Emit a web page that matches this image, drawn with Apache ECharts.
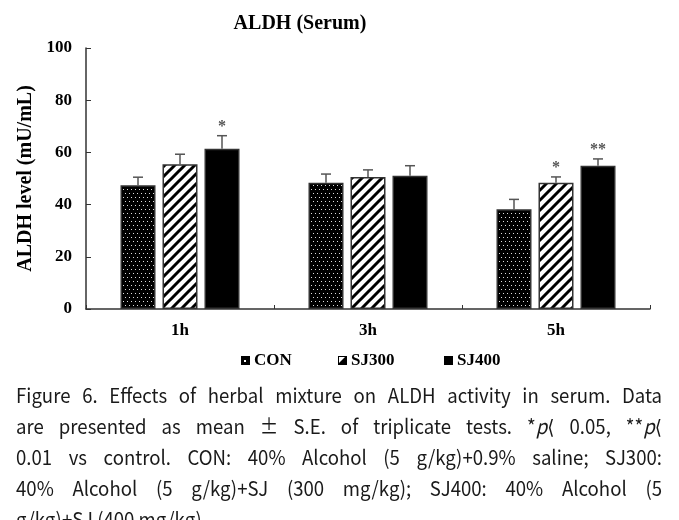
<!DOCTYPE html>
<html>
<head>
<meta charset="utf-8">
<script src="https://cdn.jsdelivr.net/npm/echarts@6/dist/echarts.min.js"></script>
<style>
  html, body { margin: 0; padding: 0; background: #fff; }
  #chart { width: 679px; height: 520px; }
</style>
</head>
<body>
<div id="chart"></div>
<script>
// data
var categories = ['1h', '3h', '5h'];
var groupNames = ['CON', 'SJ300', 'SJ400'];
var conMean = [47.4, 48.4, 38.2];
var conErr = [3.1, 3.3, 3.8];
var sj300Mean = [55.5, 50.6, 48.4];
var sj300Err = [3.8, 2.7, 2.2];
var sj400Mean = [61.4, 51.1, 54.9];
var sj400Err = [5.0, 3.8, 2.6];
var conMarks = ['', '', ''];
var sj300Marks = ['', '', '*'];
var sj400Marks = ['*', '', '**'];
var yMin = 0, yMax = 100, yStep = 20;

var captionLines = [
  'Figure 6. Effects of herbal mixture on ALDH activity in serum. Data',
  'are presented as mean ± S.E. of triplicate tests. *p⟨ 0.05, **p⟨',
  '0.01 vs control. CON: 40% Alcohol (5 g/kg)+0.9% saline; SJ300:',
  '40% Alcohol (5 g/kg)+SJ (300 mg/kg); SJ400: 40% Alcohol (5',
  'g/kg)+SJ (400 mg/kg).'
];

var serif = 'Liberation Serif';
var capFont = '"Noto Sans CJK KR", "DejaVu Sans"';
var capSize = 20, capScale = 0.93;
var barW = 35, barStep = 42;

// fill patterns
function dotPattern() {
  var c = document.createElement('canvas');
  c.width = 4; c.height = 8;
  var g = c.getContext('2d');
  g.fillStyle = '#000'; g.fillRect(0, 0, 4, 8);
  g.fillStyle = '#ddd';
  g.fillRect(1, 1, 1, 1);
  g.fillRect(3, 5, 1, 1);
  return c;
}
function stripePattern() {
  var s = 10;
  var c = document.createElement('canvas');
  c.width = s; c.height = s;
  var g = c.getContext('2d');
  g.fillStyle = '#fff'; g.fillRect(0, 0, s, s);
  g.strokeStyle = '#000'; g.lineWidth = 3;
  g.beginPath();
  g.moveTo(-1, s + 1); g.lineTo(s + 1, -1);
  g.moveTo(-2, 2); g.lineTo(2, -2);
  g.moveTo(s - 2, s + 2); g.lineTo(s + 2, s - 2);
  g.stroke();
  return c;
}
function icon(kind) {
  var c = document.createElement('canvas');
  c.width = 9; c.height = 9;
  var g = c.getContext('2d');
  g.fillStyle = '#000'; g.fillRect(0, 0, 9, 9);
  if (kind === 0) {
    g.fillStyle = '#fff'; g.fillRect(3, 4, 2, 2);
  } else if (kind === 1) {
    g.fillStyle = '#fff';
    g.beginPath(); g.moveTo(1, 1); g.lineTo(7, 1); g.lineTo(1, 7); g.closePath(); g.fill();
  }
  return 'image://' + c.toDataURL();
}

var fills = [
  { image: dotPattern(), repeat: 'repeat' },
  { image: stripePattern(), repeat: 'repeat' },
  '#000'
];
var means = [conMean, sj300Mean, sj400Mean];
var errs = [conErr, sj300Err, sj400Err];
var marks = [conMarks, sj300Marks, sj400Marks];
var legendLeft = [241, 338, 444];

var series = [];
groupNames.forEach(function (name, k) {
  series.push({
    name: name,
    type: 'bar',
    data: means[k],
    barWidth: barW,
    barGap: '20%',
    itemStyle: { color: fills[k], borderColor: '#333', borderWidth: 1.5 },
    emphasis: { disabled: true }
  });
});
groupNames.forEach(function (name, k) {
  series.push({
    type: 'custom',
    data: categories.map(function (c, i) { return [i, means[k][i], errs[k][i]]; }),
    encode: { x: 0, y: 1 },
    z: 5,
    silent: true,
    renderItem: function (params, api) {
      var i = api.value(0), m = api.value(1), e = api.value(2);
      var base = api.coord([i, m]);
      var top = api.coord([i, m + e]);
      var x = base[0] + (k - 1) * barStep;
      var kids = [
        { type: 'line', shape: { x1: x, y1: base[1], x2: x, y2: top[1] },
          style: { stroke: '#555', lineWidth: 1.5 } },
        { type: 'line', shape: { x1: x - 5, y1: top[1], x2: x + 5, y2: top[1] },
          style: { stroke: '#555', lineWidth: 1.5 } }
      ];
      var mk = marks[k][params.dataIndex];
      if (mk) {
        kids.push({ type: 'text', x: x, y: top[1] - 9,
          style: { text: mk, fontFamily: serif, fontSize: 16, fontWeight: 'bold',
            fill: '#555', align: 'center', verticalAlign: 'middle' } });
      }
      return { type: 'group', children: kids };
    }
  });
});

// justified caption
var measure = document.createElement('canvas').getContext('2d');
function wordWidth(w) {
  var m = w.match(/^(\*+)p(.*)$/);
  measure.font = capSize + 'px ' + capFont;
  if (m) {
    var a = measure.measureText(m[1]).width + measure.measureText(m[2]).width;
    measure.font = 'italic ' + capSize + 'px ' + capFont;
    return (a + measure.measureText('p').width) * capScale;
  }
  return measure.measureText(w).width * capScale;
}
var capLeft = 16, capRight = 662, capTop = 395, capLead = 31.2;
var graphics = [];
captionLines.forEach(function (line, li) {
  var words = line.split(' ');
  var widths = words.map(wordWidth);
  var total = widths.reduce(function (a, b) { return a + b; }, 0);
  measure.font = capSize + 'px ' + capFont;
  var gap = measure.measureText(' ').width * capScale;
  if (li < captionLines.length - 1) gap = (capRight - capLeft - total) / (words.length - 1);
  var x = capLeft;
  words.forEach(function (w, wi) {
    var m = w.match(/^(\*+)p(.*)$/);
    var st = { text: w, fontFamily: capFont, fontSize: capSize, fill: '#1a1a1a', verticalAlign: 'middle' };
    if (m) {
      st.text = m[1] + '{i|p}' + m[2];
      st.rich = { i: { fontFamily: capFont, fontSize: capSize, fontStyle: 'italic', fill: '#1a1a1a' } };
    }
    graphics.push({ type: 'text', x: x, y: capTop + li * capLead, scaleX: capScale, style: st, silent: true });
    x += widths[wi] + gap;
  });
});

var chart = echarts.init(document.getElementById('chart'));
chart.setOption({
  animation: false,
  backgroundColor: '#fff',
  title: {
    text: 'ALDH (Serum)',
    left: 295, top: 9, textAlign: 'center',
    textStyle: { fontFamily: serif, fontWeight: 'bold', fontSize: 20, color: '#000' }
  },
  legend: groupNames.map(function (n, k) {
    return {
      left: legendLeft[k], top: 352,
      itemWidth: 9, itemHeight: 9, padding: 0,
      selectedMode: false,
      textStyle: { fontFamily: serif, fontWeight: 'bold', fontSize: 17, color: '#000', padding: [0, 0, 0, -1] },
      data: [{ name: n, icon: icon(k) }]
    };
  }),
  grid: { left: 86, right: 29, top: 48, bottom: 211, outerBoundsMode: 'none' },
  xAxis: {
    type: 'category',
    data: categories,
    axisLine: { show: true, lineStyle: { color: '#333', width: 1.5 } },
    axisTick: { show: true, inside: true, length: 4, lineStyle: { color: '#333' } },
    axisLabel: { fontFamily: serif, fontWeight: 'bold', fontSize: 17, color: '#000', margin: 13 },
    splitLine: { show: false }
  },
  yAxis: {
    type: 'value',
    min: yMin, max: yMax, interval: yStep,
    name: 'ALDH level (mU/mL)',
    nameLocation: 'middle', nameGap: 48,
    nameTextStyle: { fontFamily: serif, fontWeight: 'bold', fontSize: 20, color: '#000' },
    axisLine: { show: true, lineStyle: { color: '#333', width: 1.5 } },
    axisTick: { show: true, inside: true, length: 5, lineStyle: { color: '#333' } },
    axisLabel: { fontFamily: serif, fontWeight: 'bold', fontSize: 17, color: '#000', margin: 14 },
    splitLine: { show: false }
  },
  series: series,
  graphic: graphics
});
</script>
</body>
</html>
